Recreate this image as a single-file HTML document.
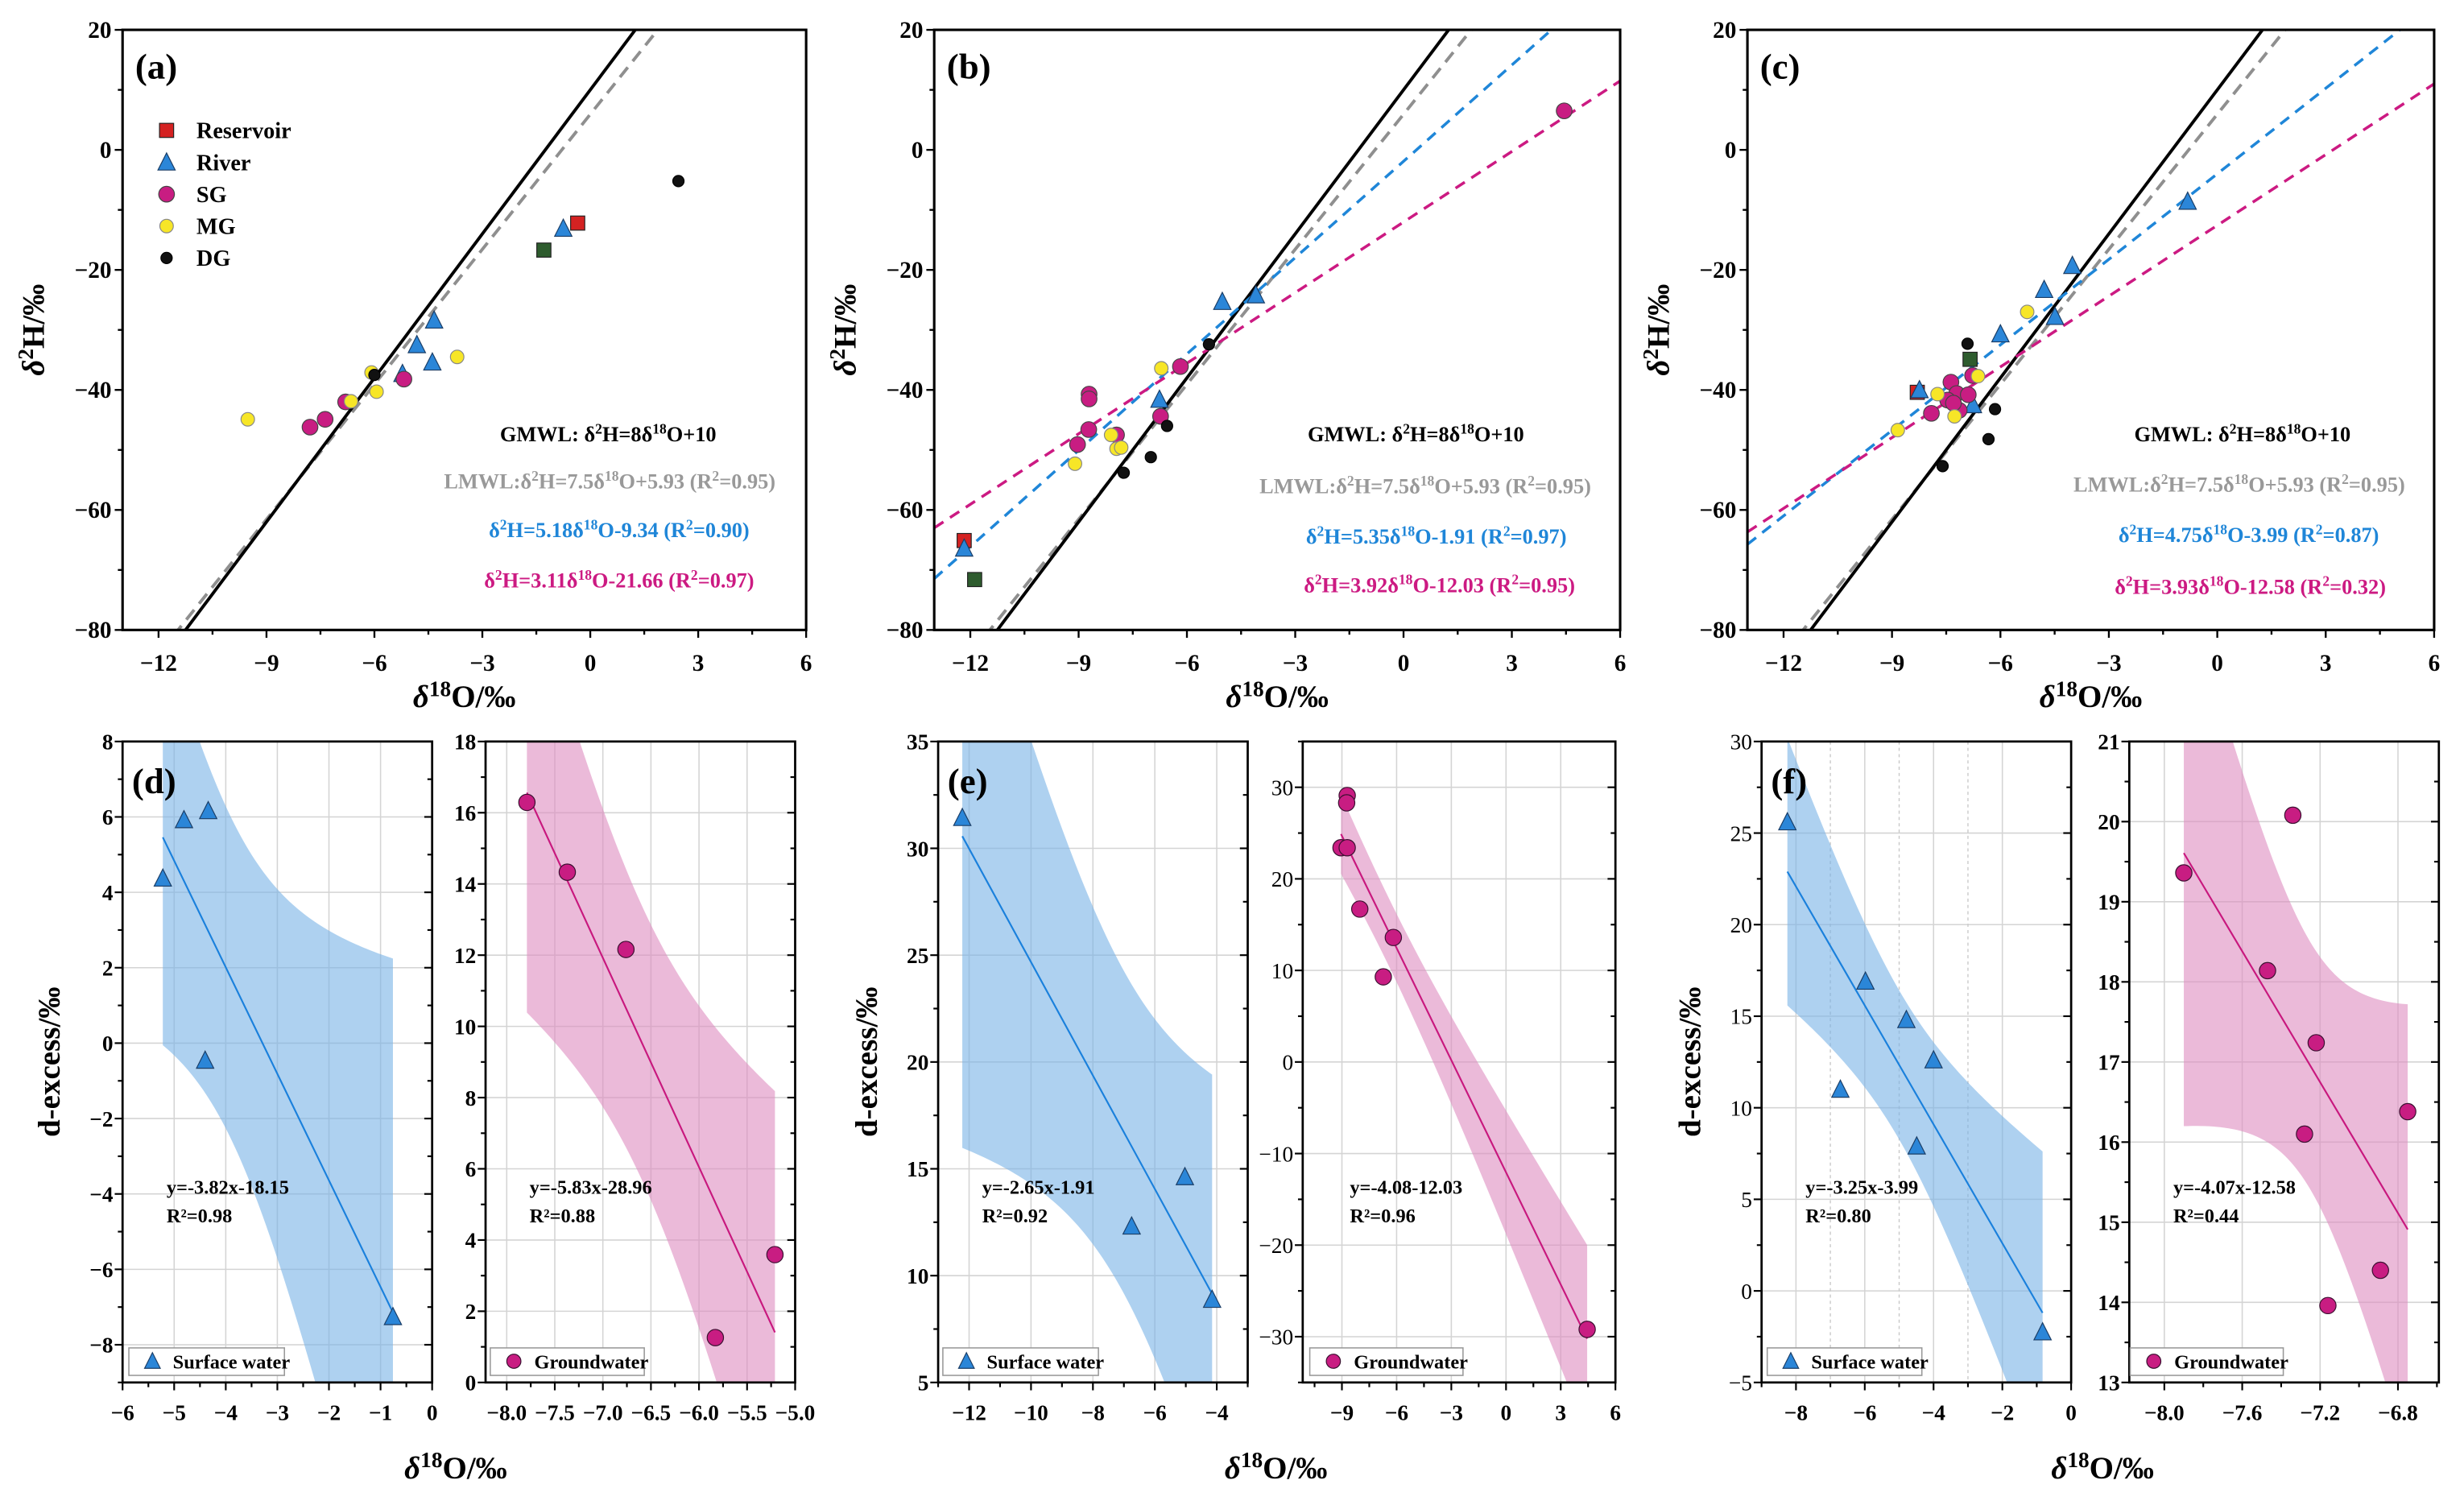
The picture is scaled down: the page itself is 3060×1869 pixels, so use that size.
<!DOCTYPE html>
<html><head><meta charset="utf-8">
<style>
html,body{margin:0;padding:0;background:#fff;width:3060px;height:1869px;overflow:hidden;}
svg{display:block;font-family:"Liberation Serif",serif;}
text,tspan{font-family:"Liberation Serif",serif;}
</style></head>
<body>
<svg id="fig" xmlns="http://www.w3.org/2000/svg" width="3060" height="1869" viewBox="0 0 1568 958" preserveAspectRatio="none" font-family="Liberation Serif, serif"></svg>
<script>
// ===== DATA: top panels (δ18O, δ2H) =====
const aReservoir=[[-0.35,-12.2]];
const aOther=[[-1.29,-16.7]];
const aRiver=[[-0.75,-13.1],[-4.34,-28.4],[-4.82,-32.5],[-4.39,-35.4],[-5.22,-37.3]];
const aSG=[[-7.79,-46.2],[-7.37,-44.9],[-6.80,-42.0],[-5.18,-38.2]];
const aMG=[[-9.52,-44.9],[-6.65,-41.9],[-6.08,-37.1],[-5.94,-40.3],[-3.70,-34.5]];
const aDG=[[2.45,-5.2],[-6.0,-37.5]];

const bReservoir=[[-12.17,-65.1]];
const bOther=[[-11.88,-71.6]];
const bRiver=[[-12.17,-66.4],[-6.76,-41.6],[-5.02,-25.3],[-4.09,-24.2]];
const bSG=[[4.45,6.5],[-8.71,-40.7],[-8.71,-41.5],[-8.72,-46.6],[-9.03,-49.1],[-7.95,-47.5],[-6.73,-44.4],[-6.18,-36.1]];
const bMG=[[-6.71,-36.4],[-9.1,-52.3],[-8.1,-47.5],[-7.95,-49.8],[-7.82,-49.6]];
const bDG=[[-5.39,-32.4],[-6.55,-46.0],[-7.0,-51.2],[-7.75,-53.8]];

const cReservoir=[[-8.30,-40.4]];
const cOther=[[-6.84,-34.9]];
const cRiver=[[-8.24,-40.0],[-0.82,-8.6],[-4.01,-19.3],[-4.79,-23.3],[-4.49,-27.8],[-6.0,-30.7],[-6.76,-42.5]];
const cSG=[[-7.37,-38.7],[-7.21,-40.6],[-7.46,-41.7],[-7.14,-43.4],[-6.89,-40.8],[-7.91,-43.9],[-6.77,-37.6],[-7.3,-42.2]];
const cMG=[[-8.84,-46.7],[-7.74,-40.7],[-7.27,-44.4],[-6.62,-37.7],[-5.26,-27.0]];
const cDG=[[-6.91,-32.3],[-6.15,-43.2],[-6.33,-48.2],[-7.6,-52.7]];

// meteoric water lines [slope, intercept]
const gmwl=[8,10];
const lmwl=[7.5,5.93];
const bSurfFit=[5.35,-1.91];
const bGroundFit=[3.92,-12.03];
const cSurfFit=[4.75,-3.99];
const cGroundFit=[3.93,-12.58];

const topXTicks=[-12,-9,-6,-3,0,3,6];
const topYTicks=[20,0,-20,-40,-60,-80];

// ===== DATA: bottom panels (δ18O, d-excess) =====
const dSurf=[[-5.22,4.37],[-4.81,5.92],[-4.34,6.16],[-4.40,-0.46],[-0.76,-7.26]];
const dGround=[[-7.79,16.29],[-7.37,14.33],[-6.76,12.16],[-5.83,1.26],[-5.21,3.59]];
const eSurf=[[-12.22,31.43],[-6.75,12.31],[-5.03,14.62],[-4.15,8.88]];
const eGround=[[-8.71,29.1],[-8.74,28.3],[-9.05,23.4],[-8.71,23.4],[-8.02,16.7],[-6.18,13.6],[-6.73,9.3],[4.45,-29.2]];
const fSurf=[[-8.25,25.6],[-6.71,11.0],[-5.98,16.9],[-4.79,14.8],[-4.0,12.6],[-4.49,7.9],[-0.83,-2.25]];
const fGround=[[-7.90,19.36],[-7.34,20.08],[-7.47,18.14],[-7.22,17.24],[-7.28,16.10],[-6.75,16.38],[-6.89,14.40],[-7.16,13.96]];

const dSurfXTicks=[-6,-5,-4,-3,-2,-1,0];
const dSurfYTicks=[-8,-6,-4,-2,0,2,4,6,8];
const dGrXTicks=["-8.0","-7.5","-7.0","-6.5","-6.0","-5.5","-5.0"];
const dGrYTicks=[0,2,4,6,8,10,12,14,16,18];
const eSurfXTicks=[-12,-10,-8,-6,-4];
const eSurfYTicks=[5,10,15,20,25,30,35];
const eGrXTicks=[-9,-6,-3,0,3,6];
const eGrYTicks=[-30,-20,-10,0,10,20,30];
const fSurfXTicks=[-8,-6,-4,-2,0];
const fSurfYTicks=[-5,0,5,10,15,20,25,30];
const fGrXTicks=["-8.0","-7.6","-7.2","-6.8"];
const fGrYTicks=[13,14,15,16,17,18,19,20,21];

// ===== helpers =====
const NS='http://www.w3.org/2000/svg';
const svg=document.getElementById('fig');
function el(tag,attrs,parent){const e=document.createElementNS(NS,tag);for(const k in attrs)e.setAttribute(k,attrs[k]);parent.appendChild(e);return e;}
function lin(d0,d1,r0,r1){return v=>r0+(v-d0)*(r1-r0)/(d1-d0);}
function minus(s){return String(s).replace('-','\u2212');}
function sup(s,fs){return '<tspan dy="-5" font-size="'+fs+'">'+s+'</tspan><tspan dy="5">';}
let clipId=0;
function makeClip(x0,x1,y0,y1){
  const id='clip'+(clipId++);
  const cp=el('clipPath',{id:id},svg);
  el('rect',{x:x0,y:y0,width:x1-x0,height:y1-y0},cp);
  return 'url(#'+id+')';
}
const COL={red:'#d42222',green:'#2e5c2e',blue:'#2b86d8',mag:'#c81d82',yel:'#f7e627',blk:'#111'};
function marker(type,cx,cy,parent,size){
  let m;
  if(type==='square'){m=el('rect',{x:cx-size/2,y:cy-size/2,width:size,height:size,fill:parent.__fill,stroke:'#222','stroke-width':0.6},parent);}
  else if(type==='tri'){const h=size*0.9;m=el('polygon',{points:(cx)+','+(cy-h/2-1)+' '+(cx-size/2)+','+(cy+h/2)+' '+(cx+size/2)+','+(cy+h/2),fill:parent.__fill,stroke:'#1a3d66','stroke-width':0.6},parent);}
  else {m=el('circle',{cx:cx,cy:cy,r:size,fill:parent.__fill,stroke:parent.__stroke||'#333','stroke-width':0.6},parent);}
  return m;
}

// ===== top panels =====
function topPanel(letter,box,sets,fits,eqPos,eqTexts,legend){
  const [x0,x1,y0,y1]=box;
  const X=lin(-13,6,x0,x1), Y=lin(-80,20,y1,y0);
  const g=el('g',{},svg);
  
  
  const clip=makeClip(x0,x1,y0,y1);
  const lg=el('g',{'clip-path':clip},g);
  function drawLine(f,color,dash,w,name){
    const l=el('line',{x1:X(-13),y1:Y(f[0]*-13+f[1]),x2:X(6),y2:Y(f[0]*6+f[1]),stroke:color,'stroke-width':w,'stroke-dasharray':dash},lg);
    
    
  }
  drawLine(lmwl,'#8f8f8f','8,5',2,'lmwl-line');
  drawLine(gmwl,'#000','none',2,'gmwl-line');
  fits.forEach(f=>drawLine(f[0],f[1],'7,5',1.8,f[2]));
  const mg=el('g',{},g);
  sets.forEach(s=>{
    const sg=el('g',{},mg);
    
    
    sg.__fill=s.fill; sg.__stroke=s.stroke;
    s.data.forEach(p=>{const m=marker(s.type,X(p[0]),Y(p[1]),sg,s.size);
      
      });
  });
  const fr=el('rect',{x:x0,y:y0,width:x1-x0,height:y1-y0,fill:'none',stroke:'#000','stroke-width':1.6},g);
  
  
  for(let v=-12;v<=6;v+=1.5){ const isM=topXTicks.includes(v);
    el('line',{x1:X(v),x2:X(v),y1:y1,y2:y1+(isM?5:3),stroke:'#000','stroke-width':1.2},g);}
  for(let v=-80;v<=20;v+=10){const isM=topYTicks.includes(v);
    el('line',{x1:x0,x2:x0-(isM?5:3),y1:Y(v),y2:Y(v),stroke:'#000','stroke-width':1.2},g);}
  topXTicks.forEach(v=>{const t=el('text',{x:X(v),y:y1+26,'text-anchor':'middle','font-size':15,'font-weight':'bold'},g);t.textContent=minus(v);
    
    });
  topYTicks.forEach(v=>{const t=el('text',{x:x0-7,y:Y(v)+5,'text-anchor':'end','font-size':15,'font-weight':'bold'},g);t.textContent=minus(v);
    
    });
  const pl=el('text',{x:x0+8,y:y0+31,'font-size':23,'font-weight':'bold'},g);pl.textContent='('+letter+')';
  
  
  const xl=el('text',{x:(x0+x1)/2,y:y1+49,'text-anchor':'middle','font-size':20,'font-weight':'bold'},g);
  xl.innerHTML='<tspan font-style="italic">δ</tspan><tspan dy="-7" font-size="14">18</tspan><tspan dy="7">O/‰</tspan>';
  
  
  const yl=el('text',{x:0,y:0,'text-anchor':'middle','font-size':20,'font-weight':'bold',transform:'translate('+(x0-50)+','+((y0+y1)/2)+') rotate(-90)'},g);
  yl.innerHTML='<tspan font-style="italic">δ</tspan><tspan dy="-7" font-size="14">2</tspan><tspan dy="7">H/‰</tspan>';
  
  
  eqTexts.forEach((e,i)=>{const t=el('text',{x:eqPos[i][0],y:eqPos[i][1]+5,'text-anchor':'middle','font-size':13.5,'font-weight':'bold',fill:e[0]},g);
    t.innerHTML=e[1];
    
    });
  if(legend){
    const lgd=el('g',{},g);
    
    
    sets.filter(s=>s.legend).forEach((s,i)=>{
      const yy=y0+64+i*20.3;
      const eg=el('g',{},lgd);
      
      
      eg.__fill=s.fill; eg.__stroke=s.stroke;
      marker(s.type,x0+28,yy,eg,s.size);
      const t=el('text',{x:x0+47,y:yy+5,'font-size':14.5,'font-weight':'bold'},eg);t.textContent=s.legend;
    });
  }
}
const gmwlTxt='GMWL: δ'+sup('2',9)+'H=8δ'+sup('18',9)+'O+10</tspan></tspan>';
const lmwlTxt='LMWL:δ'+sup('2',9)+'H=7.5δ'+sup('18',9)+'O+5.93 (R'+sup('2',9)+'=0.95)</tspan></tspan></tspan>';
function fitTxt(a,b,r){return 'δ'+sup('2',9)+'H='+a+'δ'+sup('18',9)+'O'+b+' (R'+sup('2',9)+'='+r+')</tspan></tspan></tspan>';}
function setsFor(res,oth,riv,sg,mgd,dg){return [
  {name:'reservoir-points',legend:'Reservoir',type:'square',fill:COL.red,size:9,data:res},
  {name:'other-points',type:'square',fill:COL.green,size:9,data:oth},
  {name:'river-points',legend:'River',type:'tri',fill:COL.blue,size:11,data:riv},
  {name:'sg-points',legend:'SG',type:'circle',fill:COL.mag,stroke:'#444',size:5,data:sg},
  {name:'mg-points',legend:'MG',type:'circle',fill:COL.yel,stroke:'#888',size:4.3,data:mgd},
  {name:'dg-points',legend:'DG',type:'circle',fill:COL.blk,stroke:'#000',size:3.6,data:dg}];}
topPanel('a',[78,513,19,401],setsFor(aReservoir,aOther,aRiver,aSG,aMG,aDG),[],
  [[387,276],[388,306],[394,337],[394,369]],
  [['#000',gmwlTxt,'gmwl-equation'],['#999',lmwlTxt,'lmwl-equation'],['#1f86d8',fitTxt('5.18','-9.34','0.90'),'surface-fit-equation'],['#cc1a82',fitTxt('3.11','-21.66','0.97'),'ground-fit-equation']],true);
topPanel('b',[594.5,1031,19,401],setsFor(bReservoir,bOther,bRiver,bSG,bMG,bDG),
  [[bSurfFit,'#1f86d8','surface-fit-line'],[bGroundFit,'#cc1a82','ground-fit-line']],
  [[901,276],[907,309],[914,341],[916,372]],
  [['#000',gmwlTxt,'gmwl-equation'],['#999',lmwlTxt,'lmwl-equation'],['#1f86d8',fitTxt('5.35','-1.91','0.97'),'surface-fit-equation'],['#cc1a82',fitTxt('3.92','-12.03','0.95'),'ground-fit-equation']],false);
topPanel('c',[1112,1549,19,401],setsFor(cReservoir,cOther,cRiver,cSG,cMG,cDG),
  [[cSurfFit,'#1f86d8','surface-fit-line'],[cGroundFit,'#cc1a82','ground-fit-line']],
  [[1427,276],[1425,308],[1431,340],[1432,373]],
  [['#000',gmwlTxt,'gmwl-equation'],['#999',lmwlTxt,'lmwl-equation'],['#1f86d8',fitTxt('4.75','-3.99','0.87'),'surface-fit-equation'],['#cc1a82',fitTxt('3.93','-12.58','0.32'),'ground-fit-equation']],false);

// ===== bottom panels =====
const TT=[0,12.706,4.303,3.182,2.776,2.571,2.447,2.365,2.306,2.262];
function subPanel(cfg){
  const [x0,x1,y0,y1]=cfg.box;
  const X=lin(cfg.xlim[0],cfg.xlim[1],x0,x1), Y=lin(cfg.ylim[0],cfg.ylim[1],y1,y0);
  const g=el('g',{},svg);
  
  
  const xt=cfg.xticks.map(Number), yt=cfg.yticks.map(Number);
  xt.forEach(v=>el('line',{x1:X(v),x2:X(v),y1:y0,y2:y1,stroke:'#d4d4d4','stroke-width':0.8},g));
  yt.forEach(v=>el('line',{x1:x0,x2:x1,y1:Y(v),y2:Y(v),stroke:'#d4d4d4','stroke-width':0.8},g));
  (cfg.dotted||[]).forEach(v=>el('line',{x1:X(v),x2:X(v),y1:y0,y2:y1,stroke:'#c8c8c8','stroke-width':0.7,'stroke-dasharray':'2,2'},g));
  const d=cfg.data, n=d.length;
  const mx=d.reduce((s,p)=>s+p[0],0)/n, my=d.reduce((s,p)=>s+p[1],0)/n;
  let sxx=0,sxy=0; d.forEach(p=>{sxx+=(p[0]-mx)**2;sxy+=(p[0]-mx)*(p[1]-my);});
  const slope=sxy/sxx, icp=my-slope*mx;
  let sse=0; d.forEach(p=>{sse+=(p[1]-(icp+slope*p[0]))**2;});
  const s=Math.sqrt(sse/(n-2)), t=TT[n-2];
  const xmin=Math.min(...d.map(p=>p[0])), xmax=Math.max(...d.map(p=>p[0]));
  const up=[],lo=[];
  for(let i=0;i<=80;i++){const x=xmin+(xmax-xmin)*i/80;const yh=icp+slope*x;const w=t*s*Math.sqrt(1/n+(x-mx)**2/sxx);
    up.push(X(x)+','+Y(yh+w)); lo.unshift(X(x)+','+Y(yh-w));}
  const clip=makeClip(x0,x1,y0,y1);
  const cg=el('g',{'clip-path':clip},g);
  const band=el('polygon',{points:up.concat(lo).join(' '),fill:cfg.band,'fill-opacity':0.6},cg);
  
  
  const rl=el('line',{x1:X(xmin),y1:Y(icp+slope*xmin),x2:X(xmax),y2:Y(icp+slope*xmax),stroke:cfg.line,'stroke-width':1.1},cg);
  
  
  const pg=el('g',{},g); pg.__fill=cfg.fill; pg.__stroke='#3a1030';
  d.forEach(p=>{const m=marker(cfg.type,X(p[0]),Y(p[1]),pg,cfg.type==='tri'?11:5.2);
    
    });
  const fr=el('rect',{x:x0,y:y0,width:x1-x0,height:y1-y0,fill:'none',stroke:'#000','stroke-width':1.4},g);
  
  
  const xs=cfg.xminor, ys=cfg.yminor;
  let start=Math.ceil(cfg.xlim[0]/xs-1e-6)*xs;
  for(let v=start;v<=cfg.xlim[1]+1e-6;v+=xs){const isM=xt.some(q=>Math.abs(q-v)<1e-6);
    el('line',{x1:X(v),x2:X(v),y1:y1,y2:y1+(isM?5:3),stroke:'#000','stroke-width':1.1},g);}
  start=Math.ceil(cfg.ylim[0]/ys-1e-6)*ys;
  for(let v=start;v<=cfg.ylim[1]+1e-6;v+=ys){const isM=yt.some(q=>Math.abs(q-v)<1e-6);
    el('line',{x1:x0,x2:x0-(isM?5:3),y1:Y(v),y2:Y(v),stroke:'#000','stroke-width':1.1},g);
    el('line',{x1:x1,x2:x1-(isM?5:3),y1:Y(v),y2:Y(v),stroke:'#000','stroke-width':1.1},g);}
  cfg.xticks.forEach(v=>{const tt=el('text',{x:X(Number(v)),y:y1+24,'text-anchor':'middle','font-size':14,'font-weight':'bold'},g);tt.textContent=minus(v);
    
    });
  cfg.yticks.forEach(v=>{const tt=el('text',{x:x0-6,y:Y(Number(v))+5,'text-anchor':'end','font-size':14,'font-weight':cfg.yNormal?'normal':'bold'},g);tt.textContent=minus(v);
    
    });
  const an=el('text',{x:cfg.ann[0],y:cfg.ann[1],'font-size':12.5,'font-weight':'bold'},g);
  an.innerHTML='<tspan x="'+cfg.ann[0]+'">'+cfg.eq+'</tspan><tspan x="'+cfg.ann[0]+'" dy="18">'+cfg.r2+'</tspan>';
  
  
  const lg=el('g',{},g);
  
  
  el('rect',{x:cfg.leg[0],y:858,width:cfg.leg[1]-cfg.leg[0],height:17.5,fill:'#fff',stroke:'#999','stroke-width':0.8},lg);
  lg.__fill=cfg.fill; lg.__stroke='#3a1030';
  marker(cfg.type,cfg.leg[0]+15,866.5,lg,cfg.type==='tri'?10:4.5);
  const lt=el('text',{x:cfg.leg[0]+28,y:871,'font-size':12.5,'font-weight':'bold'},lg);lt.textContent=cfg.legText;
  if(cfg.label){const pl=el('text',{x:x0+6,y:y0+33,'font-size':23,'font-weight':'bold'},g);pl.textContent=cfg.label;
    
    }
}
const BL='#78b2e6', PK='#de8cc0';
subPanel({name:'panel-d-surface',label:'(d)',box:[78,275,472,880],xlim:[-6,0],ylim:[-9,8],xticks:dSurfXTicks,yticks:dSurfYTicks,xminor:0.5,yminor:1,data:dSurf,type:'tri',fill:COL.blue,band:BL,line:'#1a80dc',ann:[106,760],eq:'y=-3.82x-18.15',r2:'R²=0.98',leg:[82,181],legText:'Surface water'});
subPanel({name:'panel-d-ground',box:[309,506,472,880],xlim:[-8.22,-5.0],ylim:[0,18],xticks:dGrXTicks,yticks:dGrYTicks,xminor:0.25,yminor:1,data:dGround,type:'circle',fill:COL.mag,band:PK,line:'#c8187e',ann:[337,760],eq:'y=-5.83x-28.96',r2:'R²=0.88',leg:[312,410],legText:'Groundwater'});
subPanel({name:'panel-e-surface',label:'(e)',box:[597,794,472,880],xlim:[-13,-3],ylim:[5,35],xticks:eSurfXTicks,yticks:eSurfYTicks,xminor:1,yminor:2.5,data:eSurf,type:'tri',fill:COL.blue,band:BL,line:'#1a80dc',ann:[625,760],eq:'y=-2.65x-1.91',r2:'R²=0.92',leg:[600,699],legText:'Surface water'});
subPanel({name:'panel-e-ground',box:[829,1028,472,880],xlim:[-11.15,6],ylim:[-35,35],xticks:eGrXTicks,yticks:eGrYTicks,xminor:1.5,yminor:5,yNormal:true,data:eGround,type:'circle',fill:COL.mag,band:PK,line:'#c8187e',ann:[859,760],eq:'y=-4.08-12.03',r2:'R²=0.96',leg:[833.5,931],legText:'Groundwater'});
subPanel({name:'panel-f-surface',label:'(f)',box:[1121,1318,472,880],xlim:[-9,0],ylim:[-5,30],xticks:fSurfXTicks,yticks:fSurfYTicks,xminor:1,yminor:2.5,yNormal:true,dotted:[-7,-5,-3],data:fSurf,type:'tri',fill:COL.blue,band:BL,line:'#1a80dc',ann:[1149,760],eq:'y=-3.25x-3.99',r2:'R²=0.80',leg:[1124.6,1223],legText:'Surface water'});
subPanel({name:'panel-f-ground',box:[1355,1552,472,880],xlim:[-8.18,-6.59],ylim:[13,21],xticks:fGrXTicks,yticks:fGrYTicks,xminor:0.2,yminor:0.5,data:fGround,type:'circle',fill:COL.mag,band:PK,line:'#c8187e',ann:[1383,760],eq:'y=-4.07x-12.58',r2:'R²=0.44',leg:[1355.6,1453],legText:'Groundwater'});

[[290,77,'d'],[812,597,'e'],[1338,1121,'f']].forEach(a=>{
  const xl=el('text',{x:a[0],y:941,'text-anchor':'middle','font-size':20,'font-weight':'bold'},svg);
  xl.innerHTML='<tspan font-style="italic">δ</tspan><tspan dy="-7" font-size="14">18</tspan><tspan dy="7">O/‰</tspan>';
  
  
  const yl=el('text',{x:0,y:0,'text-anchor':'middle','font-size':20,'font-weight':'bold',transform:'translate('+(a[1]-39)+',676) rotate(-90)'},svg);
  yl.textContent='d-excess/‰';
  
  
});
</script>
</body></html>
